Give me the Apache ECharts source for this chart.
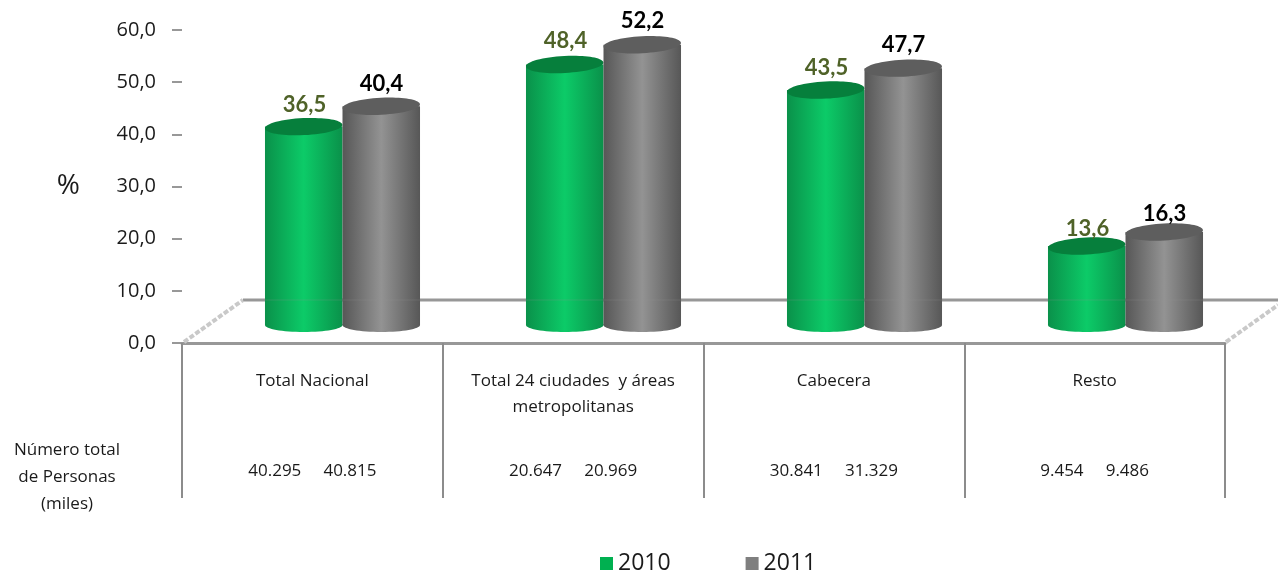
<!DOCTYPE html>
<html><head><meta charset="utf-8">
<style>html,body{margin:0;padding:0;background:#fff}#c{width:1278px;height:573px}</style>
<script src="https://cdn.jsdelivr.net/npm/echarts@6/dist/echarts.min.js"></script>
</head><body><div id="c"></div>
<script>
const categories = ['Total Nacional', 'Total 24 ciudades  y áreas\nmetropolitanas', 'Cabecera', 'Resto'];
const values2010 = [36.5, 48.4, 43.5, 13.6];
const values2011 = [40.4, 52.2, 47.7, 16.3];
const personas2010 = ['40.295', '20.647', '30.841', '9.454'];
const personas2011 = ['40.815', '20.969', '31.329', '9.486'];
const FONT = 'Open Sans';
const AXIS = '#989898';
const comma = v => v.toFixed(1).replace('.', ',');
const personasRow = categories.map((c, i) => personas2010[i] + '     ' + personas2011[i]);

function cylinder(side, body, edge, top) {
  return function (params, api) {
    const v = api.value(1), i = api.value(0);
    const c = api.coord([i, v]), b = api.coord([i, 0]);
    const band = api.size([1, 0])[0];
    const w = band * 0.297;
    const cx = c[0] + side * w / 2;
    const baseY = b[1] + 8, topY = c[1], ry = 8.5;
    const fill = new echarts.graphic.LinearGradient(0, 0, 1, 0, [
      { offset: 0, color: edge }, { offset: 0.5, color: body }, { offset: 1, color: edge }]);
    return { type: 'group', children: [
      { type: 'ellipse', shape: { cx, cy: baseY, rx: w / 2, ry: 7 }, style: { fill } },
      { type: 'rect', shape: { x: cx - w / 2, y: topY, width: w, height: baseY - topY }, style: { fill } },
      { type: 'ellipse', shape: { cx, cy: topY, rx: w / 2, ry }, rotation: 0.05, originX: cx, originY: topY, style: { fill: top } }
    ] };
  };
}
const labelSeries = (name, vals, dx, color) => ({
  name, type: 'scatter', xAxisIndex: 3, yAxisIndex: 2, symbolSize: 1, silent: true, z: 5,
  itemStyle: { color: 'transparent', opacity: 1 },
  data: vals.map((v, i) => [i, v]),
  label: { show: true, position: 'inside', offset: [dx, 0], formatter: p => comma(p.value[1]),
    fontFamily: 'Lato', fontSize: 22, fontWeight: 'bold', color, opacity: 1 }
});
const hiddenX = g => ({ type: 'category', gridIndex: g, data: categories, show: false });
const hiddenY = (g, max) => ({ type: 'value', gridIndex: g, min: 0, max, show: false });

const chart = echarts.init(document.getElementById('c'));
chart.setOption({
  animation: false,
  backgroundColor: '#fff',
  textStyle: { fontFamily: FONT },
  grid: [
    { left: 182, top: 30, width: 1043, height: 313 },
    { left: 212, top: 4, width: 1044, height: 313 },
    { left: 212, top: 0, width: 1044, height: 302 }
  ],
  xAxis: [
    { type: 'category', gridIndex: 0, data: categories,
      axisLine: { show: true, lineStyle: { color: AXIS, width: 3 } },
      axisTick: { show: true, length: 155, lineStyle: { color: '#8c8c8c', width: 2 } },
      axisLabel: { margin: 25, fontSize: 17, lineHeight: 26, color: '#1a1a1a', interval: 0, fontFamily: FONT } },
    { type: 'category', gridIndex: 0, position: 'bottom', offset: 120, data: personasRow,
      axisLine: { show: false }, axisTick: { show: false },
      axisLabel: { margin: 0, fontSize: 17, color: '#1a1a1a', interval: 0, fontFamily: FONT } },
    hiddenX(1), hiddenX(2)
  ],
  yAxis: [
    { type: 'value', gridIndex: 0, min: 0, max: 60, interval: 10,
      name: '%', nameLocation: 'middle', nameRotate: 0, nameGap: 102,
      nameTextStyle: { fontSize: 28, color: '#1a1a1a', fontFamily: FONT },
      splitLine: { show: false },
      axisLine: { show: false },
      axisTick: { show: true, length: 10, lineStyle: { color: AXIS, width: 2 } },
      axisLabel: { margin: 26, fontSize: 20, color: '#1a1a1a', formatter: comma, fontFamily: FONT } },
    hiddenY(1, 60), hiddenY(2, 56)
  ],
  legend: {
    data: ['2010', '2011'], left: 595, top: 547, icon: 'rect', itemWidth: 13, itemHeight: 13,
    itemGap: 75, textStyle: { fontSize: 23, color: '#1a1a1a', fontFamily: FONT }
  },
  series: [
    { name: '2010', type: 'custom', xAxisIndex: 2, yAxisIndex: 1, z: 3, clip: false,
      itemStyle: { color: '#00b050' }, encode: { x: 0, y: 1 },
      renderItem: cylinder(-1, '#0ccb68', '#0a914a', '#067f3c'),
      data: values2010.map((v, i) => [i, v]) },
    { name: '2011', type: 'custom', xAxisIndex: 2, yAxisIndex: 1, z: 3, clip: false,
      itemStyle: { color: '#7f7f7f' }, encode: { x: 0, y: 1 },
      renderItem: cylinder(1, '#939393', '#575757', '#5e5e5e'),
      data: values2011.map((v, i) => [i, v]) },
    labelSeries('etiqueta 2010', values2010, -38, '#4f6228'),
    labelSeries('etiqueta 2011', values2011, 39, '#000000')
  ],
  graphic: [
    { type: 'line', z: 1, shape: { x1: 243, y1: 300, x2: 1278, y2: 300 }, style: { stroke: AXIS, lineWidth: 3 } },
    { type: 'line', z: 4, shape: { x1: 243, y1: 300, x2: 1278, y2: 300 }, style: { stroke: AXIS, lineWidth: 2, opacity: 0.12 } },
    { type: 'line', z: 1, shape: { x1: 184, y1: 342, x2: 243, y2: 300 }, style: { stroke: '#c9c9c9', lineWidth: 4, lineDash: [5, 2] } },
    { type: 'line', z: 1, shape: { x1: 1226, y1: 342, x2: 1278, y2: 305 }, style: { stroke: '#c9c9c9', lineWidth: 4, lineDash: [5, 2] } },
    { type: 'text', x: 67, y: 437, style: { text: 'Número total\nde Personas\n(miles)', align: 'center',
        fontSize: 17, lineHeight: 27, fill: '#1a1a1a', fontFamily: FONT } }
  ]
});
</script></body></html>
